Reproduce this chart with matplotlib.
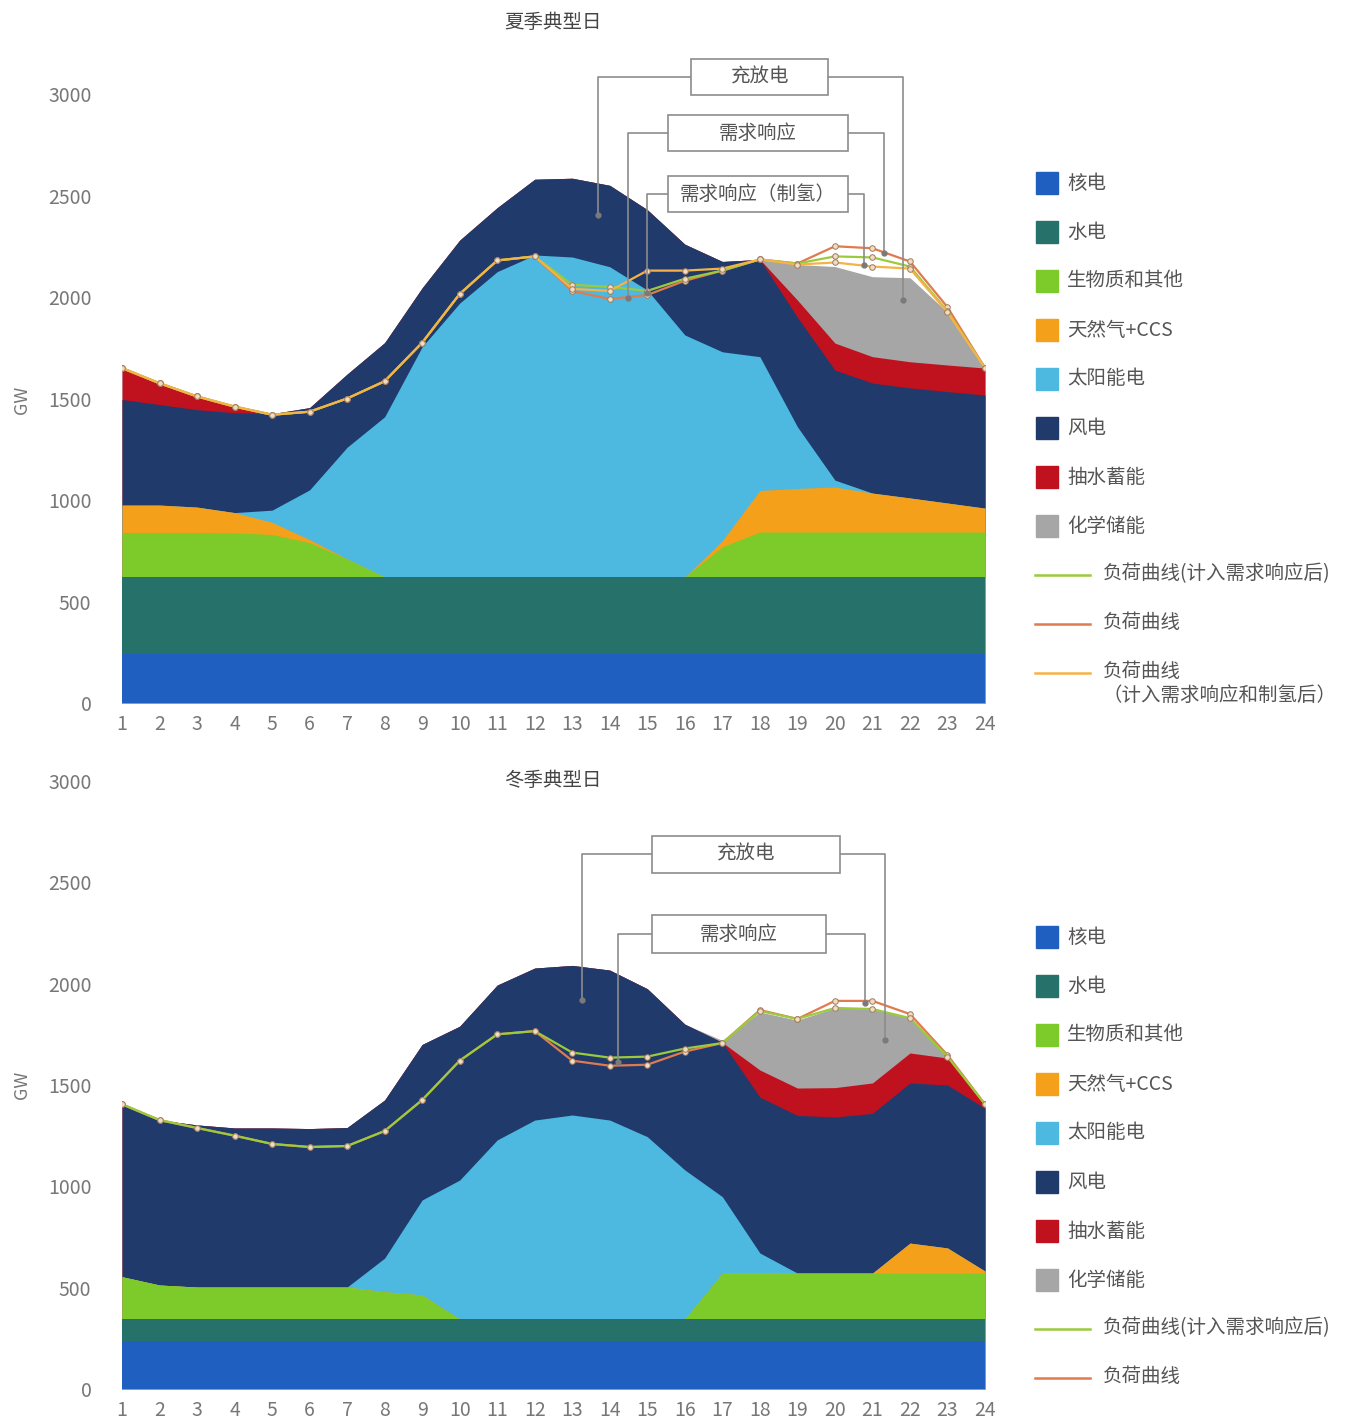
import numpy as np
import matplotlib
matplotlib.use("Agg")
import matplotlib.pyplot as plt
from matplotlib.patches import Rectangle
from matplotlib.lines import Line2D

plt.rcParams["font.family"] = ["Noto Sans CJK SC", "DejaVu Sans"]

hours = list(range(1, 25))

source_labels = ["核电", "水电", "生物质和其他", "天然气+CCS", "太阳能电", "风电", "抽水蓄能", "化学储能"]
source_colors = ["#1F5FBF", "#26726B", "#7DCB2A", "#F5A01A", "#4DB8E0", "#1F3A6B", "#C0111F", "#A6A6A6"]

# summer typical day (GW)
nuclear_s = [240, 240, 240, 240, 240, 240, 240, 240, 240, 240, 240, 240, 240, 240, 240, 240, 240, 240, 240, 240, 240, 240, 240, 240]
hydro_s = [380, 380, 380, 380, 380, 380, 380, 380, 380, 380, 380, 380, 380, 380, 380, 380, 380, 380, 380, 380, 380, 380, 380, 380]
biomass_s = [220, 220, 220, 218, 210, 170, 90, 0, 0, 0, 0, 0, 0, 0, 0, 0, 150, 222, 222, 222, 222, 222, 222, 222]
gas_s = [135, 135, 125, 100, 60, 15, 0, 0, 0, 0, 0, 0, 0, 0, 0, 0, 30, 205, 215, 222, 192, 168, 143, 118]
solar_s = [0, 0, 0, 0, 60, 245, 550, 790, 1135, 1350, 1505, 1587, 1577, 1529, 1414, 1193, 930, 659, 304, 34, 0, 0, 0, 0]
wind_s = [520, 495, 480, 492, 475, 405, 360, 365, 290, 310, 315, 373, 388, 401, 396, 447, 445, 479, 539, 542, 542, 542, 549, 557]
pumped_s = [155, 105, 65, 30, 0, 0, 0, 0, 0, 0, 0, 0, 0, 0, 0, 0, 0, 0, 85, 133, 130, 129, 131, 133]
chem_s = [0, 0, 0, 0, 0, 0, 0, 0, 0, 0, 0, 0, 0, 0, 0, 0, 0, 0, 175, 377, 394, 414, 260, 12]

load_s = [1650, 1575, 1510, 1460, 1420, 1435, 1500, 1585, 1775, 2015, 2180, 2200, 2030, 1990, 2010, 2080, 2130, 2185, 2165, 2250, 2240, 2175, 1950, 1650]
load_dr_s = [1650, 1575, 1510, 1460, 1420, 1435, 1500, 1585, 1775, 2015, 2180, 2200, 2060, 2050, 2030, 2090, 2130, 2185, 2165, 2200, 2195, 2150, 1930, 1650]
load_h2_s = [1650, 1575, 1510, 1460, 1420, 1435, 1500, 1585, 1775, 2015, 2180, 2200, 2040, 2030, 2130, 2130, 2140, 2185, 2160, 2170, 2150, 2140, 1925, 1650]

# winter typical day (GW)
nuclear_w = [235, 235, 235, 235, 235, 235, 235, 235, 235, 235, 235, 235, 235, 235, 235, 235, 235, 235, 235, 235, 235, 235, 235, 235]
hydro_w = [110, 110, 110, 110, 110, 110, 110, 110, 110, 110, 110, 110, 110, 110, 110, 110, 110, 110, 110, 110, 110, 110, 110, 110]
biomass_w = [209, 168, 158, 158, 158, 158, 158, 135, 119, 0, 0, 0, 0, 0, 0, 0, 227, 227, 227, 227, 227, 227, 227, 227]
gas_w = [0, 0, 0, 0, 0, 0, 0, 0, 0, 0, 0, 0, 0, 0, 0, 0, 0, 0, 0, 0, 0, 148, 124, 10]
solar_w = [0, 0, 0, 0, 0, 0, 0, 166, 469, 686, 884, 982, 1007, 982, 900, 736, 377, 99, 0, 0, 0, 0, 0, 0]
wind_w = [857, 814, 800, 785, 785, 782, 787, 780, 767, 759, 764, 750, 738, 740, 730, 719, 761, 769, 778, 770, 788, 790, 804, 803]
pumped_w = [0, 0, 0, 0, 0, 0, 0, 0, 0, 0, 0, 0, 0, 0, 0, 0, 0, 134, 135, 145, 150, 148, 133, 26]
chem_w = [0, 0, 0, 0, 0, 0, 0, 0, 0, 0, 0, 0, 0, 0, 0, 0, 10, 286, 335, 393, 365, 177, 5, 0]

load_w = [1405, 1327, 1288, 1250, 1209, 1194, 1199, 1273, 1426, 1620, 1750, 1766, 1620, 1595, 1600, 1665, 1707, 1870, 1826, 1915, 1915, 1850, 1648, 1405]
load_dr_w = [1405, 1327, 1288, 1250, 1209, 1194, 1199, 1273, 1426, 1620, 1750, 1766, 1660, 1635, 1640, 1680, 1707, 1865, 1826, 1880, 1875, 1830, 1640, 1405]

line_labels = ["负荷曲线(计入需求响应后)", "负荷曲线", "负荷曲线\n（计入需求响应和制氢后）"]
line_colors = ["#9BCB3C", "#E07A4F", "#F5B347"]

# callout boxes: text, box x0, x1, y0, y1, left target (x, y), right target (x, y)
notes_s = [
    ("充放电", 16.17, 19.82, 2995, 3172, (13.69, 2404), (21.82, 1985)),
    ("需求响应", 15.55, 20.35, 2719, 2897, (14.49, 1995), (21.31, 2217)),
    ("需求响应（制氢）", 15.55, 20.35, 2419, 2596, (14.99, 2020), (20.78, 2158)),
]
notes_w = [
    ("充放电", 15.13, 20.14, 2546, 2729, (13.26, 1919), (21.34, 1722)),
    ("需求响应", 15.13, 19.76, 2151, 2339, (14.22, 1613), (20.81, 1905)),
]

W, H = 1359, 1427
fig = plt.figure(figsize=(W / 100, H / 100), dpi=100)


def fx(x):
    return x / W


def fy(y):
    return 1 - y / H


def draw_day(ax, layers, curves, notes):
    tops = np.cumsum(np.array(layers, dtype=float), axis=0)
    for k in range(len(layers) - 1, -1, -1):
        ax.fill_between(hours, 0, tops[k], color=source_colors[k], linewidth=0)
    for vals, col in curves:
        ax.plot(hours, vals, color=col, lw=1.6, marker="o", ms=4,
                mfc="#EFDCC2", mec="#A07A5A", mew=0.7, zorder=5)
    for text, x0, x1, y0, y1, lt, rt in notes:
        ym = (y0 + y1) / 2
        for (tx, ty), xe in ((lt, x0), (rt, x1)):
            ax.plot([xe, tx, tx], [ym, ym, ty], color="#8C8C8C", lw=1.2,
                    clip_on=False, zorder=6)
            ax.plot(tx, ty, "o", color="#7A7A7A", ms=3.5, clip_on=False, zorder=6)
        ax.add_patch(Rectangle((x0, y0), x1 - x0, y1 - y0, facecolor="white",
                               edgecolor="#8C8C8C", lw=1.2, clip_on=False, zorder=7))
        ax.text((x0 + x1) / 2, ym, text, ha="center", va="center", fontsize=14,
                color="#555555", zorder=8)
    ax.set_xlim(1, 24)
    ax.set_ylim(0, 3000)
    ax.set_xticks(hours)
    ax.set_yticks(range(0, 3001, 500))
    ax.tick_params(axis="both", length=0, labelsize=14, colors="#777777")
    ax.tick_params(axis="y", pad=22)
    ax.tick_params(axis="x", pad=8)
    for s in ax.spines.values():
        s.set_visible(False)


def draw_legend(top_px, n_lines):
    y = top_px
    for lab, col in zip(source_labels, source_colors):
        fig.patches.append(Rectangle((fx(1036), fy(y + 11)), 22 / W, 22 / H,
                                     transform=fig.transFigure, color=col))
        fig.text(fx(1067), fy(y), lab, va="center", fontsize=14, color="#555555")
        y += 49
    for lab, col in list(zip(line_labels, line_colors))[:n_lines]:
        fig.add_artist(Line2D([fx(1035), fx(1090)], [fy(y), fy(y)], color=col, lw=1.8))
        fig.text(fx(1103), fy(y - 12), lab, va="top", fontsize=14, color="#555555",
                 linespacing=1.2)
        y += 49


ax_s = fig.add_axes([fx(122), fy(703), 863 / W, 609 / H])
draw_day(ax_s,
         [nuclear_s, hydro_s, biomass_s, gas_s, solar_s, wind_s, pumped_s, chem_s],
         [(load_s, line_colors[1]), (load_dr_s, line_colors[0]), (load_h2_s, line_colors[2])],
         notes_s)

ax_w = fig.add_axes([fx(122), fy(1389), 863 / W, 608 / H])
draw_day(ax_w,
         [nuclear_w, hydro_w, biomass_w, gas_w, solar_w, wind_w, pumped_w, chem_w],
         [(load_w, line_colors[1]), (load_dr_w, line_colors[0])],
         notes_w)

fig.text(fx(553), fy(22), "夏季典型日", ha="center", va="center", fontsize=14, color="#444444")
fig.text(fx(553), fy(780), "冬季典型日", ha="center", va="center", fontsize=14, color="#444444")
fig.text(fx(22), fy(400), "GW", ha="center", va="center", rotation=90, fontsize=13, color="#777777")
fig.text(fx(22), fy(1085), "GW", ha="center", va="center", rotation=90, fontsize=13, color="#777777")

draw_legend(183, 3)
draw_legend(937, 2)

fig.savefig("out.png", dpi=100)
